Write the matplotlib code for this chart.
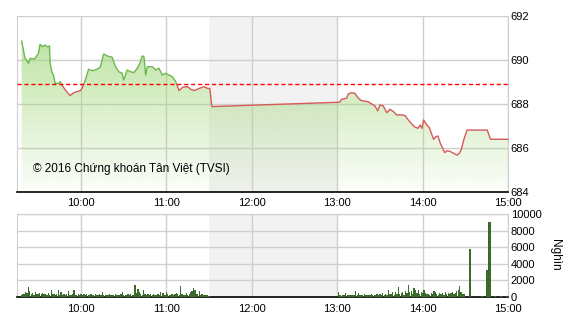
import numpy as np
import matplotlib
matplotlib.use("Agg")
import matplotlib.pyplot as plt
from matplotlib.patches import Rectangle

plt.rcParams['font.family'] = ['Liberation Sans', 'DejaVu Sans']

# ---- DATA ----
# time = minutes since 09:00
REF_PRICE = 688.9

price_minutes = [
    18.3, 20.6, 21.8, 23.0, 24.2, 26.3, 27.7, 30.0, 31.2, 33.1, 34.8, 36.0, 37.8,
    38.3, 39.5, 40.6, 41.8, 44.2, 45.4, 46.6, 48.9, 52.4, 54.7, 57.1, 59.5, 60.7,
    63.0, 65.3, 67.7, 70.1, 72.4, 73.6, 75.9, 78.3, 81.8, 84.2, 86.5, 88.9, 90.0,
    92.4, 94.8, 97.1, 99.5, 101.3, 103.0, 104.2, 105.4, 106.6, 110.1, 112.4, 114.7,
    117.1, 119.5, 121.8, 124.2, 126.5, 128.9, 131.3, 134.8, 137.1, 139.5, 143.0,
    146.5, 148.9, 150.5, 151.9,
    241.8, 243.0, 246.5, 247.7, 249.6, 252.4, 254.8, 257.1, 261.9, 264.2, 266.5,
    268.4, 270.0, 272.4, 274.8, 277.1, 279.5, 281.8, 285.4, 287.7, 289.6, 291.9,
    294.3, 296.7, 298.3, 299.5, 300.7, 303.0, 304.6, 306.0, 307.7, 309.4, 310.8,
    312.4, 314.1, 315.5, 317.1, 319.5, 321.8, 324.2, 325.8, 327.2, 328.9, 331.2,
    345.4, 347.7, 360.0,
]
price_values = [
    690.86, 690.07, 689.99, 689.84, 690.07, 690.04, 690.07, 690.30, 690.71, 690.60,
    690.68, 690.60, 690.63, 689.84, 689.46, 689.31, 688.93, 688.93, 689.01, 688.86,
    688.63, 688.37, 688.50, 688.55, 688.60, 688.70, 689.08, 689.57, 689.51, 689.54,
    689.62, 689.69, 690.27, 690.18, 690.12, 689.69, 689.46, 689.39, 689.08, 689.54,
    689.46, 689.42, 689.62, 689.84, 690.18, 690.15, 689.31, 689.69, 689.69, 689.54,
    689.62, 689.31, 689.39, 689.31, 689.23, 689.01, 688.60, 688.75, 688.78, 688.66,
    688.60, 688.70, 688.78, 688.70, 688.70, 687.87,
    688.07, 688.20, 688.25, 688.44, 688.50, 688.48, 688.25, 688.14, 688.09, 687.99,
    687.90, 687.68, 687.94, 687.90, 687.59, 687.75, 687.64, 687.49, 687.49, 687.46,
    687.29, 687.11, 686.95, 686.88, 687.03, 686.88, 687.26, 687.03, 686.93, 686.68,
    686.38, 686.50, 686.53, 686.20, 685.97, 685.77, 685.86, 685.82, 685.74, 685.66,
    685.74, 685.92, 686.35, 686.80, 686.80, 686.38, 686.38,
]

# volume (thousand shares) per minute
vol_am_start = 18
vol_am = [
    300, 400, 350, 600, 500, 1150, 700, 350, 450, 300, 550, 400,
    350, 450, 400, 450, 350, 400, 300, 450, 250, 900, 350, 400,
    300, 350, 800, 250, 600, 300, 400, 250, 350, 700, 300, 250,
    400, 800, 300, 200, 350, 250, 400, 300, 350, 200, 400, 300,
    250, 350, 300, 200, 350, 250, 300, 400, 250, 600, 300, 200,
    300, 250, 350, 200, 300, 250, 350, 200, 300, 250, 350, 600,
    250, 300, 200, 350, 250, 400, 300, 250, 1400, 450, 1000, 600,
    350, 300, 800, 400, 250, 350, 300, 400, 250, 350, 300, 250,
    400, 300, 600, 450, 500, 300, 600, 400, 250, 300, 350, 250,
    400, 500, 350, 300, 1300, 400, 300, 250, 500, 300, 400, 600,
    700, 1100, 800, 400, 350, 700, 300, 350, 250, 300, 200, 250,
    150,
]
vol_pm_start = 241
vol_pm = [
    650, 200, 150, 250, 200, 500, 200, 300, 250, 200, 300, 250,
    700, 200, 450, 250, 300, 200, 350, 250, 200, 300, 250, 350,
    200, 300, 250, 400, 300, 350, 250, 500, 300, 350, 250, 900,
    400, 350, 600, 300, 550, 400, 1200, 350, 450, 600, 300, 700,
    500, 1500, 600, 750, 400, 1100, 800, 500, 900, 400, 600, 450,
    900, 500, 350, 400, 300, 450, 350, 700, 650, 400, 300, 500,
    350, 450, 300, 550, 400, 500, 350, 450, 600, 400, 500, 700,
    900, 1300, 600, 400, 350,
]
late_minutes = [333, 342, 345, 347, 351, 355, 359.5]
late_volumes = [5800, 100, 3300, 9000, 150, 120, 150]

hour_ticks = [60, 120, 180, 240, 300, 360]
hour_labels = ["10:00", "11:00", "12:00", "13:00", "14:00", "15:00"]
price_ticks = [684, 686, 688, 690, 692]
vol_ticks = [0, 2000, 4000, 6000, 8000, 10000]

# ---- STYLE ----
GRID = "#cfcfcf"
LUNCH = "#f2f2f2"
GREEN_LINE = "#6cb850"
RED_LINE = "#d65a5a"
BAR = "#3a6a2c"
FS = 8

fig = plt.figure(figsize=(5.7, 3.2), dpi=100)
ax = fig.add_axes([17 / 570, 1 - 191.5 / 320, 491 / 570, 175.5 / 320])
axv = fig.add_axes([17 / 570, 1 - 297 / 320, 491 / 570, 83 / 320])

x = np.array(price_minutes)
y = np.array(price_values)


def style_axes(a, yticks, ylim):
    a.set_xlim(15, 360)
    a.set_ylim(*ylim)
    a.set_xticks(hour_ticks)
    a.set_xticklabels(hour_labels)
    a.set_yticks(yticks)
    a.yaxis.tick_right()
    a.tick_params(length=0, labelsize=FS, pad=2)
    a.tick_params(axis="x", pad=5)
    a.grid(True, color=GRID, linewidth=1, zorder=0)
    a.set_axisbelow(True)
    a.axvspan(150, 240, color=LUNCH, zorder=0.5, lw=0)
    for s in ["left", "top", "right"]:
        a.spines[s].set_color(GRID)
    a.spines["bottom"].set_color("black")
    a.spines["bottom"].set_linewidth(1.2)


style_axes(ax, price_ticks, (684, 692))
style_axes(axv, vol_ticks, (0, 10000))

# gradient fill under the price line
poly = ax.fill_between(x, y, 684, color="none", lw=0)
grad = np.zeros((256, 1, 4))
t = np.linspace(0, 1, 256)[:, None]   # 0 at bottom, 1 at top
grad[:, :, 0] = 160 / 255
grad[:, :, 1] = 215 / 255
grad[:, :, 2] = 120 / 255
grad[:, :, 3] = 0.04 + 0.64 * t
img = ax.imshow(grad, extent=[15, 360, 684, 691.0], origin="lower",
                aspect="auto", zorder=1, interpolation="bilinear")
img.set_clip_path(poly.get_paths()[0], transform=ax.transData)
ax.set_xlim(15, 360)
ax.set_ylim(684, 692)

# price line: green above reference, red below
above = Rectangle((0, REF_PRICE), 400, 10, transform=ax.transData)
below = Rectangle((0, 680), 400, REF_PRICE - 680, transform=ax.transData)
lg, = ax.plot(x, y, color=GREEN_LINE, lw=1.0, zorder=3)
lg.set_clip_path(above)
lr, = ax.plot(x, y, color=RED_LINE, lw=1.0, zorder=3)
lr.set_clip_path(below)

ax.axhline(REF_PRICE, color="red", lw=1, ls=(0, (3, 2)), zorder=4)

ax.text(0.033, 0.128, "\u00a9 2016 Ch\u1ee9ng kho\u00e1n T\u00e2n Vi\u1ec7t (TVSI)",
        transform=ax.transAxes, fontsize=8.5, va="center", ha="left", zorder=5)

# volume bars
am_x = np.arange(len(vol_am)) + vol_am_start
pm_x = np.arange(len(vol_pm)) + vol_pm_start
axv.bar(am_x, vol_am, width=0.9, color=BAR, zorder=3, lw=0)
axv.bar(pm_x, vol_pm, width=0.9, color=BAR, zorder=3, lw=0)
axv.bar(late_minutes, late_volumes, width=1.5, color=BAR, zorder=3, lw=0)

fig.text(555 / 570, 1 - 255 / 320, "Ngh\u00ecn", rotation=270, fontsize=8.5,
         ha="center", va="center")

fig.savefig("out.png", dpi=100)
